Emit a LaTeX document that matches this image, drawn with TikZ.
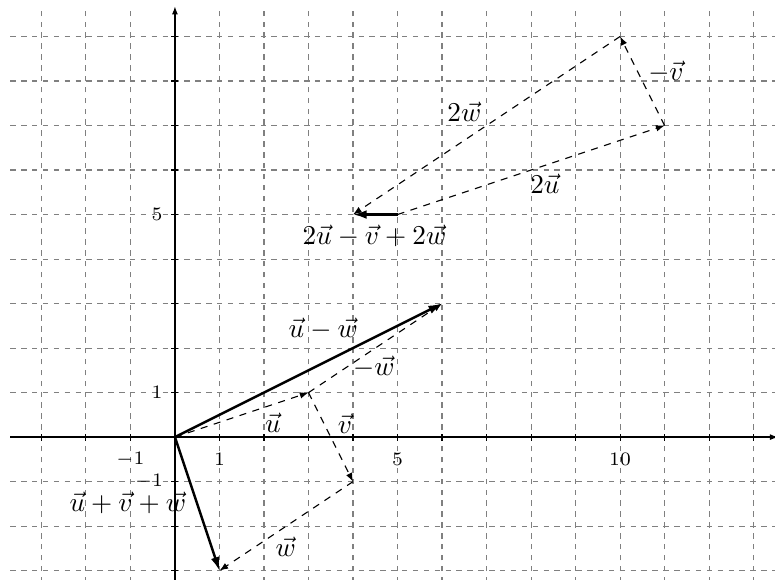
\documentclass[tikz,border=0pt]{standalone}
\usetikzlibrary{arrows.meta}
\begin{document}
\begin{tikzpicture}[x=0.575cm, y=0.575cm,
  gridline/.style={gray, dash pattern=on 2pt off 2pt, line width=0.4pt},
  axisline/.style={line width=0.5pt, -{Latex[length=3pt,width=2.2pt]}},
  dvec/.style={line width=0.4pt, dash pattern=on 2.6pt off 2.4pt, -{Latex[length=3.2pt,width=2.4pt]}},
  svec/.style={line width=0.9pt, -{Latex[length=5pt,width=3.2pt]}},
  lbl/.style={inner sep=1pt},
  tick/.style={inner sep=1pt, font=\scriptsize}
]
\clip (-3.93,-3.19) rectangle (13.48,9.82);
% grid
\foreach \i in {-3,...,13} \draw[gridline] (\i,-3.5) -- (\i,9.7);
\foreach \j in {-3,...,9} \draw[gridline] (-3.7,\j) -- (13.7,\j);
% axes
\coordinate (xs) at (-3.7,0);
\coordinate (xe) at (13.55,0);
\coordinate (ys) at (0,-3.5);
\coordinate (ye) at (0,9.68);
\draw[axisline] (xs) -- (xe);
\draw[axisline] (ys) -- (ye);
\foreach \i in {-3,...,13} \draw[line width=0.4pt] (\i,0) ++(0,-1.3pt) -- ++(0,2.6pt);
\foreach \j in {-3,...,9} \draw[line width=0.4pt] (0,\j) ++(-1.3pt,0) -- ++(2.6pt,0);
% tick labels
\node[tick] (xm1) at (-1.0,-0.5) {$-1$};
\node[tick] (x1) at (1,-0.5) {$1$};
\node[tick] (x5) at (5,-0.5) {$5$};
\node[tick] (x10) at (10,-0.5) {$10$};
\node[tick] (y1) at (-0.4,1) {$1$};
\node[tick] (y5) at (-0.4,5) {$5$};
\node[tick] (ym1) at (-0.58,-1) {$-1$};
% points
\coordinate (O) at (0,0);
\coordinate (A) at (3,1);
\coordinate (B) at (4,-1);
\coordinate (C) at (1,-3);
\coordinate (D) at (6,3);
\coordinate (E) at (5,5);
\coordinate (F) at (11,7);
\coordinate (G) at (10,9);
\coordinate (H) at (4,5);
% dashed vectors
\draw[dvec] (O) -- (A);
\draw[dvec] (A) -- (B);
\draw[dvec] (B) -- (C);
\draw[dvec] (A) -- (D);
\draw[dvec] (E) -- (F);
\draw[dvec] (F) -- (G);
\draw[dvec] (G) -- (H);
% solid vectors
\draw[svec] (O) -- (C);
\draw[svec] (O) -- (D);
\draw[svec] (E) -- (H);
% labels
\node[lbl] (lu) at (2.2,0.33) {$\vec{u}$};
\node[lbl] (lv) at (3.82,0.3) {$\vec{v}$};
\node[lbl] (lw) at (2.49,-2.47) {$\vec{w}$};
\node[lbl] (luvw) at (-1.06,-1.48) {$\vec{u}+\vec{v}+\vec{w}$};
\node[lbl] (lmw) at (4.47,1.57) {$-\vec{w}$};
\node[lbl] (lumw) at (3.33,2.42) {$\vec{u}-\vec{w}$};
\node[lbl] (lcomb) at (4.48,4.52) {$2\vec{u}-\vec{v}+2\vec{w}$};
\node[lbl] (l2w) at (6.5,7.3) {$2\vec{w}$};
\node[lbl] (l2u) at (8.31,5.7) {$2\vec{u}$};
\node[lbl] (lmv) at (11.03,8.2) {$-\vec{v}$};
\end{tikzpicture}
\end{document}
